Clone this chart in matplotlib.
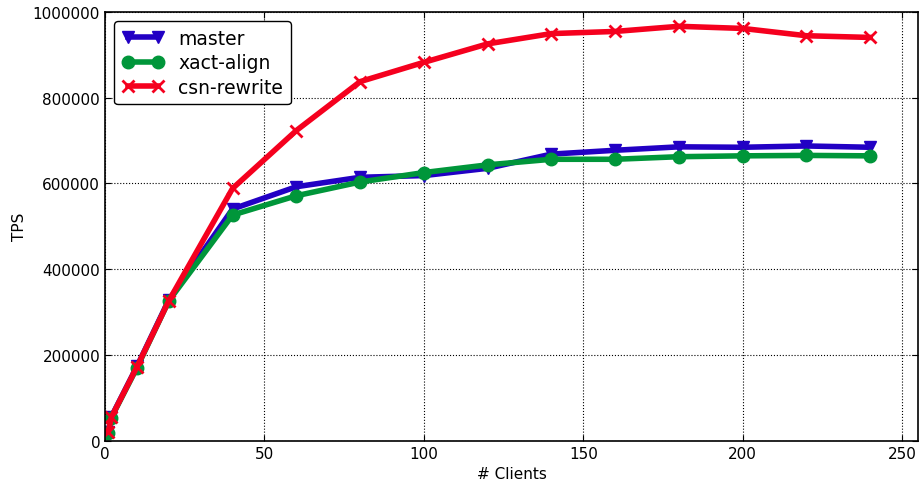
import matplotlib
matplotlib.use("Agg")
import matplotlib.pyplot as plt

clients = [1, 2, 10, 20, 40, 60, 80, 100, 120, 140, 160, 180, 200, 220, 240]
tps_master = [20000, 56000, 173000, 328000, 540000, 592000, 614000, 618000, 635000,
              668000, 677000, 685000, 684000, 687000, 684000]
tps_xact_align = [19000, 54000, 170000, 326000, 526000, 571000, 603000, 625000, 643000,
                  656000, 656000, 662000, 664000, 665000, 664000]
tps_csn_rewrite = [20000, 55000, 172000, 326000, 588000, 723000, 837000, 882000, 925000,
                   949000, 954000, 966000, 961000, 944000, 940000]

plt.rcParams['font.family'] = 'DejaVu Sans'
plt.rcParams['xtick.direction'] = 'in'
plt.rcParams['ytick.direction'] = 'in'

fig = plt.figure(figsize=(9.23, 4.85), dpi=100)
ax = fig.add_axes([0.1138, 0.0893, 0.8808, 0.8845])

ax.plot(clients, tps_master, 'v-', color='#2200c4', lw=4, ms=9, mec='#2200c4', label='master')
ax.plot(clients, tps_xact_align, 'o-', color='#00963a', lw=4, ms=9, mec='#00963a', label='xact-align')
ax.plot(clients, tps_csn_rewrite, 'x-', color='#f5001e', lw=4, ms=8, mew=2, label='csn-rewrite')

ax.set_xlim(0, 255)
ax.set_ylim(0, 1000000)
ax.set_xticks([0, 50, 100, 150, 200, 250])
ax.set_yticks([0, 200000, 400000, 600000, 800000, 1000000])
ax.ticklabel_format(style='plain', axis='y')
ax.tick_params(labelsize=11, top=True, right=True, length=4)
ax.grid(True, linestyle=':', color='k', lw=0.8)
ax.set_xlabel('# Clients', fontsize=11)
ax.set_ylabel('TPS', fontsize=11)
for s in ax.spines.values():
    s.set_linewidth(1.2)

leg = ax.legend(loc='upper left', numpoints=2, fontsize=13.5, fancybox=True,
                handlelength=2.2, borderpad=0.4, labelspacing=0.3)
leg.get_frame().set_edgecolor('k')
leg.get_frame().set_alpha(1)

fig.savefig('out.png', dpi=100)
